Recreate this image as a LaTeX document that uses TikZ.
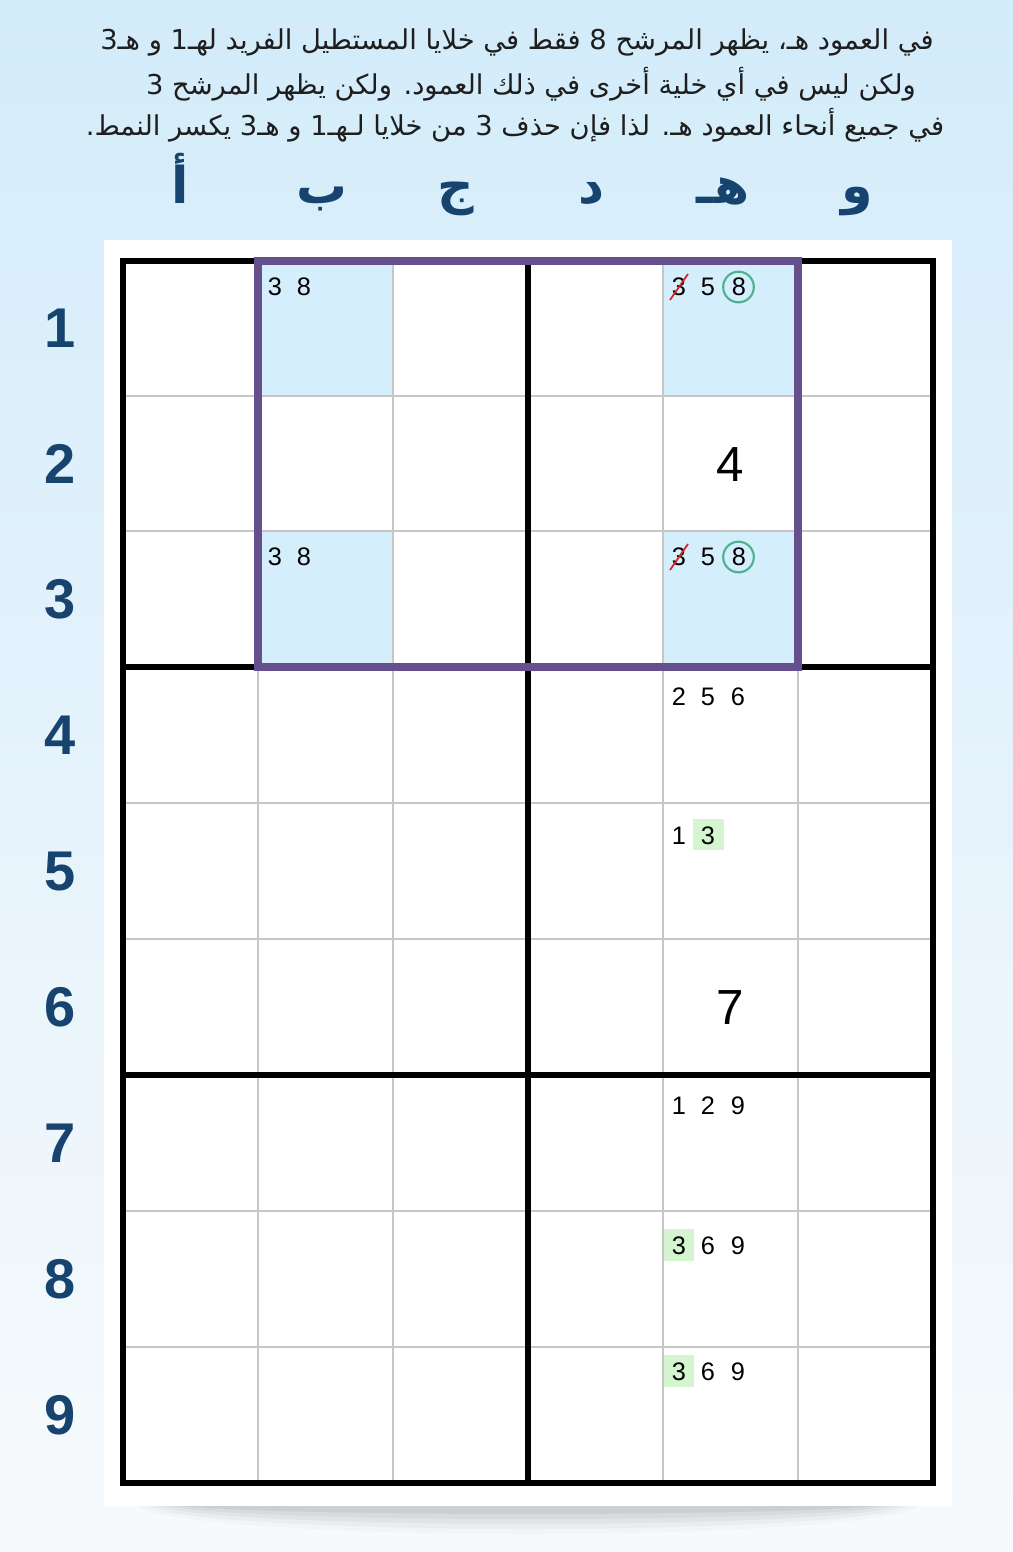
\documentclass[tikz,border=0pt]{standalone}
\usepackage{fontspec}
\setmainfont{Liberation Sans}
\newfontfamily\arabicfont[Script=Arabic]{DejaVu Sans}
\TeXXeTstate=1
\definecolor{bgtop}{HTML}{D3ECFA}
\definecolor{bgmid}{HTML}{E6F3FC}
\definecolor{bgbot}{HTML}{F7FAFC}
\definecolor{cellblue}{HTML}{D5EEFB}
\definecolor{rectpurple}{HTML}{65508D}
\definecolor{navy}{HTML}{17446F}
\definecolor{gridgray}{HTML}{C6C6C6}
\definecolor{greenhl}{HTML}{D4F5CF}
\definecolor{circgreen}{HTML}{4DB38F}
\definecolor{strikered}{HTML}{E02020}
\definecolor{txtdark}{HTML}{1E1E1E}
\tikzset{
  arab/.style={font=\arabicfont\fontsize{20.5}{25}\selectfont, text=txtdark, inner sep=0pt},
  collab/.style={font=\arabicfont\bfseries\fontsize{38}{42}\selectfont, text=navy, anchor=base, inner sep=0pt},
  rowlab/.style={font=\bfseries\fontsize{42}{46}\selectfont, text=navy, inner sep=0pt},
  cand/.style={font=\fontsize{19}{22}\selectfont, text=black, inner sep=0pt},
  big/.style={font=\fontsize{37}{40}\selectfont, text=black, inner sep=0pt},
  thin/.style={draw=gridgray, line width=1.5pt},
  thick/.style={draw=black, line width=3.8pt},
  hlbox/.style={fill=greenhl, draw=none},
  ring/.style={draw=circgreen, line width=1.6pt, circle, minimum size=23pt, inner sep=0pt},
  strike/.style={draw=strikered, line width=1.3pt}
}
\begin{document}
\begin{tikzpicture}[x=0.75pt,y=-0.75pt]
\useasboundingbox (0,0) rectangle (1013,1552);
% background
\shade[top color=bgtop, bottom color=bgmid] (0,0) rectangle (1013,800);
\shade[top color=bgmid, bottom color=bgbot] (0,799) rectangle (1013,1552);
% shadow
\foreach \r/\o in {30/0.02,25/0.03,20/0.035,15/0.04,10/0.05}
  \fill[black,opacity=\o] (528,1504) ellipse ({330+\r*2} and {\r});
% white panel
\fill[white] (104,240) rectangle (952,1506);
% blue cells
\fill[cellblue] (258,261) rectangle (393,396);
\fill[cellblue] (258,531) rectangle (393,667);
\fill[cellblue] (663,261) rectangle (798,396);
\fill[cellblue] (663,531) rectangle (798,667);
% thin grid lines
\foreach \x in {258,393,663,798} \draw[thin] (\x,261) -- (\x,1483);
\foreach \y in {396,531,803,939,1211,1347} \draw[thin] (123,\y) -- (933,\y);
% thick lines
\draw[thick] (528,261) -- (528,1483);
\draw[thick] (123,667) -- (933,667);
\draw[thick] (123,1075) -- (933,1075);
\draw[thick] (123,261) rectangle (933,1483);
% purple rectangle
\draw[draw=rectpurple, line width=6pt] (258,261) rectangle (798,667);
% top text
\node[arab] (t1) at (517,42) {\beginR في العمود هـ، يظهر المرشح 8 فقط في خلايا المستطيل الفريد لهـ1 و هـ3\endR};
\node[arab] (t2) at (531,84) {\beginR ولكن ليس في أي خلية أخرى في ذلك العمود. ولكن يظهر المرشح 3\endR};
\node[arab] (t3) at (515,125) {\beginR في جميع أنحاء العمود هـ. لذا فإن حذف 3 من خلايا لـهـ1 و هـ3 يكسر النمط.\endR};
% column labels
\node[collab] (ca) at (180,203) {\beginR أ\endR};
\node[collab] (cb) at (322,203) {\beginR ب\endR};
\node[collab] (cc) at (456,203) {\beginR ج\endR};
\node[collab] (cd) at (591,203) {\beginR د\endR};
\node[collab] (ce) at (723,203) {\beginR هـ\endR};
\node[collab] (cf) at (857,203) {\beginR و\endR};
% row labels
\foreach \i/\y in {1/328.5,2/463.5,3/599,4/735,5/871,6/1007,7/1143,8/1279,9/1415}
  \node[rowlab] (r\i) at (60,\y) {\i};
% green highlights
\fill[hlbox] (693,819) rectangle (724,850);
\fill[hlbox] (664,1229) rectangle (694,1261);
\fill[hlbox] (664,1355) rectangle (694,1387);
% candidates b1, b3
\node[cand] (b1a) at (275,287) {3};
\node[cand] (b1b) at (304,287) {8};
\node[cand] (b3a) at (275,557) {3};
\node[cand] (b3b) at (304,557) {8};
% e1
\node[cand] (e1a) at (679,287) {3};
\node[cand] (e1b) at (708,287) {5};
\node[cand] (e1c) at (739,287) {8};
\node[ring] (e1r) at (738.5,287) {};
\draw[strike] ([shift={(-9,13)}]e1a.center) -- ([shift={(9,-13)}]e1a.center);
% e3
\node[cand] (e3a) at (679,557) {3};
\node[cand] (e3b) at (708,557) {5};
\node[cand] (e3c) at (739,557) {8};
\node[ring] (e3r) at (738.5,557) {};
\draw[strike] ([shift={(-9,13)}]e3a.center) -- ([shift={(9,-13)}]e3a.center);
% e2, e6 big
\node[big] (e2) at (730,465) {4};
\node[big] (e6) at (730,1008) {7};
% e4
\node[cand] (e4a) at (679,697) {2};
\node[cand] (e4b) at (708,697) {5};
\node[cand] (e4c) at (738,697) {6};
% e5
\node[cand] (e5a) at (679,836) {1};
\node[cand] (e5b) at (708,836) {3};
% e7
\node[cand] (e7a) at (679,1106) {1};
\node[cand] (e7b) at (708,1106) {2};
\node[cand] (e7c) at (738,1106) {9};
% e8
\node[cand] (e8a) at (679,1246) {3};
\node[cand] (e8b) at (708,1246) {6};
\node[cand] (e8c) at (738,1246) {9};
% e9
\node[cand] (e9a) at (679,1372) {3};
\node[cand] (e9b) at (708,1372) {6};
\node[cand] (e9c) at (738,1372) {9};
\end{tikzpicture}
\end{document}
